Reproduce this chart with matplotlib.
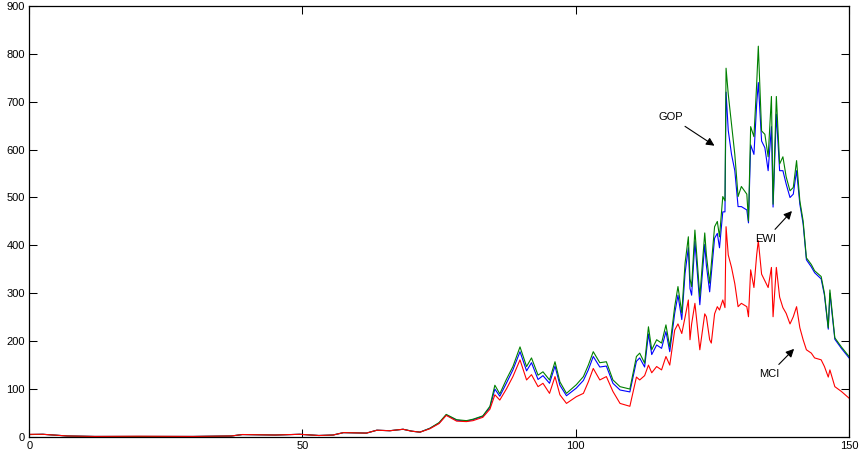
import matplotlib.pyplot as plt

# Time axis and the three wealth indices
t = [0, 2.5, 7, 12, 20, 30, 37, 39, 45, 49.5, 53, 55.6, 57.5, 61.7, 63.6, 66,
     68.4, 70, 71.5, 73.3, 75, 76.3, 78.2, 80, 81.2, 83, 84.3, 85.2, 86.1, 87.3,
     88.5, 89.8, 91, 91.9, 93.1, 94, 95.2, 96.2, 97.1, 98.3, 100.1, 101.4, 102.3,
     103.2, 104.4, 105.6, 106.8, 108.1, 109.9,
     111.1, 111.7, 112.6, 113.3, 113.9, 114.8, 115.7, 116.5, 117.2, 118.1, 118.7,
     119.4, 120.0, 120.6, 120.9, 121.2, 121.8, 122.7, 123.6, 123.9, 124.5, 124.8,
     125.4, 125.9, 126.3,
     126.9, 127.3, 127.5, 127.9, 128.5, 129.1, 129.7, 130.3, 131.3, 131.6, 132.0,
     132.6, 133.1, 133.4, 134.0, 134.6, 135.2, 135.8, 136.1, 136.7, 137.3, 137.9,
     138.5, 139.2, 139.8, 140.4, 141.0, 141.6, 142.2, 143.1, 143.7, 144.9, 145.5,
     146.2, 146.5, 147.4, 148.6, 150]

gop = [5, 5.5, 2, 1, 1, 1, 2, 5, 4, 5.5, 3, 4, 9, 8, 14, 13,
       16, 12, 10, 18, 30, 47, 36, 34, 37, 44, 64, 108, 90, 120,
       147, 188, 147, 165, 129, 136, 119, 157, 115, 91, 109, 126, 150,
       178, 155, 157, 119, 105, 100,
       168, 175, 154, 230, 182, 203, 196, 234, 188, 272, 314,
       259, 363, 418, 330, 314, 432, 293, 426, 380, 321, 360,
       439, 450, 418,
       502, 493, 770, 716, 653, 590, 502, 523, 507, 451, 648,
       627, 737, 816, 639, 632, 585, 711, 486, 711, 570, 585,
       543, 514, 521, 577, 493, 451, 374, 360, 347, 335, 300,
       228, 307, 207, 188, 168]

ewi = [5, 5.5, 2, 1, 1, 1, 2, 5, 4, 5.5, 3, 4, 9, 8, 14, 13,
       16, 12, 10, 18, 29, 46, 35, 33, 36, 43, 62, 100, 85, 112,
       140, 178, 138, 155, 120, 128, 112, 148, 108, 86, 102, 118, 140,
       168, 146, 148, 112, 98, 94,
       158, 165, 146, 215, 172, 192, 185, 220, 178, 258, 296,
       245, 342, 395, 310, 296, 408, 276, 402, 358, 303, 340,
       415, 425, 395,
       470, 470, 720, 640, 590, 556, 481, 481, 474, 447, 610,
       590, 695, 740, 618, 604, 556, 648, 480, 674, 556, 556,
       528, 500, 507, 556, 486, 445, 370, 355, 343, 330, 296,
       225, 300, 204, 185, 165]

mci = [5.5, 5.5, 2, 1, 1.5, 1, 2, 5, 4, 5.5, 3, 4, 9, 8, 14, 13,
       16, 12, 10, 17, 28, 45, 33, 32, 34, 41, 58, 88, 77, 100,
       126, 161, 119, 130, 105, 112, 91, 126, 88, 70, 84, 91, 115,
       143, 119, 126, 95, 70, 64,
       125, 119, 128, 150, 134, 147, 140, 168, 150, 223, 236,
       216, 250, 286, 203, 236, 279, 182, 257, 251, 203, 196,
       257, 272, 265,
       286, 270, 439, 380, 354, 320, 272, 279, 272, 251, 349,
       312, 380, 410, 340, 326, 312, 354, 251, 354, 292, 270,
       258, 236, 251, 272, 228, 203, 182, 175, 165, 161, 147,
       125, 140, 105, 95, 81]

plt.rcParams['font.family'] = ['Liberation Sans', 'DejaVu Sans']

fig = plt.figure(figsize=(8.59, 4.58), dpi=100)
ax = fig.add_axes([0.034, 0.046, 0.9544, 0.941])

ax.plot(t, ewi, color=(0, 0, 1), lw=0.8)
ax.plot(t, gop, color=(0, 0.5, 0), lw=0.8)
ax.plot(t, mci, color=(1, 0, 0), lw=0.8)

ax.set_xlim(0, 150)
ax.set_ylim(0, 900)
ax.set_xticks([0, 50, 100, 150])
ax.set_yticks(range(0, 901, 100))
ax.tick_params(direction='in', length=5.8, width=0.75, labelsize=8,
               top=True, right=True, pad=3)
for s in ax.spines.values():
    s.set_linewidth(0.9)

arrow = dict(arrowstyle='-|>', color='k', lw=0.8, mutation_scale=12)
ax.annotate('GOP', xy=(125.8, 605), xytext=(117.4, 668), fontsize=8,
            ha='center', va='center', arrowprops=arrow)
ax.annotate('EWI', xy=(139.9, 476), xytext=(134.8, 413), fontsize=8,
            ha='center', va='center', arrowprops=arrow)
ax.annotate('MCI', xy=(140.3, 188), xytext=(135.4, 131), fontsize=8,
            ha='center', va='center', arrowprops=arrow)

fig.savefig('out.png', dpi=100)
